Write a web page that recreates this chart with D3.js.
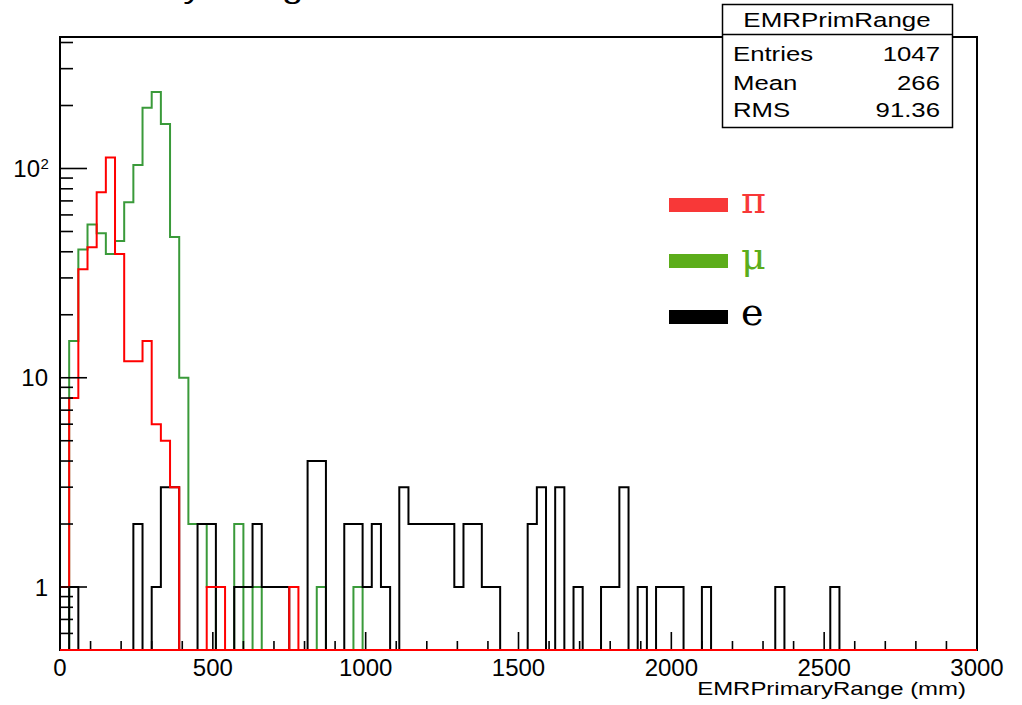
<!DOCTYPE html>
<html>
<head>
<meta charset="utf-8">
<script src="https://cdn.jsdelivr.net/npm/d3@7"></script>
<style>
  body { margin: 0; background: #fff; }
  svg { display: block; }
  text { font-family: "Liberation Sans", Arial, Helvetica, sans-serif; }
</style>
</head>
<body>
<div id="chart"></div>
<script>
// bins of 30 mm from 0 to 3000 mm
var binWidth = 30;

var pionCounts = [
  1, 8, 33, 42, 77, 113, 39, 12, 12, 15,
  6, 5, 3, 0, 0, 0, 1, 1, 0, 0,
  0, 0, 0, 0, 0, 1, 0, 0, 0, 0,
  0, 0, 0, 0, 0, 0, 0, 0, 0, 0,
  0, 0, 0, 0, 0, 0, 0, 0, 0, 0,
  0, 0, 0, 0, 0, 0, 0, 0, 0, 0,
  0, 0, 0, 0, 0, 0, 0, 0, 0, 0,
  0, 0, 0, 0, 0, 0, 0, 0, 0, 0,
  0, 0, 0, 0, 0, 0, 0, 0, 0, 0,
  0, 0, 0, 0, 0, 0, 0, 0, 0, 0
];

var muonCounts = [
  0, 15, 41, 54, 49, 39, 45, 69, 104, 195,
  232, 163, 47, 10, 2, 2, 1, 0, 0, 2,
  0, 1, 0, 0, 0, 0, 0, 0, 1, 0,
  0, 0, 1, 0, 0, 0, 0, 0, 0, 0,
  0, 0, 0, 0, 0, 0, 0, 0, 0, 0,
  0, 0, 0, 0, 0, 0, 0, 0, 0, 0,
  0, 0, 0, 0, 0, 0, 0, 0, 0, 0,
  0, 0, 0, 0, 0, 0, 0, 0, 0, 0,
  0, 0, 0, 0, 0, 0, 0, 0, 0, 0,
  0, 0, 0, 0, 0, 0, 0, 0, 0, 0
];

var electronCounts = [
  0, 1, 0, 0, 0, 0, 0, 0, 2, 0,
  1, 3, 3, 0, 0, 2, 2, 0, 0, 1,
  1, 2, 1, 1, 1, 0, 0, 4, 4, 0,
  0, 2, 2, 1, 2, 1, 0, 3, 2, 2,
  2, 2, 2, 1, 2, 2, 1, 1, 0, 0,
  0, 2, 3, 0, 3, 0, 1, 0, 0, 1,
  1, 3, 0, 1, 0, 1, 1, 1, 0, 0,
  1, 0, 0, 0, 0, 0, 0, 0, 1, 0,
  0, 0, 0, 0, 1, 0, 0, 0, 0, 0,
  0, 0, 0, 0, 0, 0, 0, 0, 0, 0
];

var xTickValues = [0, 500, 1000, 1500, 2000, 2500, 3000];
var yTickValues = [1, 10, 100];
var yTickLabels = [["1", ""], ["10", ""], ["10", "2"]];
var statsTitle = "EMRPrimRange";
var statsLabels = ["Entries", "Mean", "RMS"];
var statsValues = ["1047", "266", "91.36"];
var legendLabels = ["\u03c0", "\u03bc", "e"];

var svg = d3.select("#chart").append("svg")
    .attr("width", 1022)
    .attr("height", 705);

var frameL = 60, frameR = 977, frameT = 37, frameB = 650;

var x = d3.scaleLinear().domain([0, 3000]).range([frameL, frameR]);
var y = d3.scaleLog().domain([0.5, 425]).range([frameB, frameT]);

// title, mostly off the top of the canvas
svg.append("text")
    .attr("transform", "translate(72,-2) scale(1.35,1)")
    .attr("font-size", 28)
    .text("Primary Range");

// histograms
function histPoints(counts) {
  var pts = [[0, 0]];
  counts.forEach(function(c, i) {
    pts.push([i * binWidth, c]);
    pts.push([(i + 1) * binWidth, c]);
  });
  pts.push([counts.length * binWidth, 0]);
  return pts;
}

var histLine = d3.line()
    .x(function(d) { return x(d[0]); })
    .y(function(d) { return y(Math.max(d[1], 0.5)); });

var series = [
  {counts: muonCounts, color: "#3a9a3a"},
  {counts: electronCounts, color: "#000000"},
  {counts: pionCounts, color: "#ff0000"}
];

svg.selectAll("path.hist")
  .data(series)
  .enter()
  .append("path")
    .attr("class", "hist")
    .attr("d", function(d) { return histLine(histPoints(d.counts)); })
    .attr("fill", "none")
    .attr("stroke", function(d) { return d.color; })
    .attr("stroke-width", 2);

// x ticks (pointing up, inside the frame)
var axisG = svg.append("g").attr("stroke", "#000").attr("stroke-width", 1.6);
x.ticks(30).forEach(function(t) {
  var major = xTickValues.indexOf(t) >= 0;
  axisG.append("line")
    .attr("x1", x(t)).attr("x2", x(t))
    .attr("y1", frameB).attr("y2", frameB - (major ? 18 : 9));
});

// y ticks (pointing right)
y.ticks().forEach(function(t) {
  var major = yTickValues.indexOf(t) >= 0;
  axisG.append("line")
    .attr("x1", frameL).attr("x2", frameL + (major ? 27 : 13))
    .attr("y1", y(t)).attr("y2", y(t));
});

// frame
svg.append("rect")
    .attr("x", frameL).attr("y", frameT)
    .attr("width", frameR - frameL).attr("height", frameB - frameT)
    .attr("fill", "none")
    .attr("stroke", "#000")
    .attr("stroke-width", 2);

// the pion histogram runs along the bottom edge, over the frame
svg.append("line")
    .attr("x1", x(0)).attr("x2", x(3000))
    .attr("y1", frameB).attr("y2", frameB)
    .attr("stroke", "#ff0000").attr("stroke-width", 2);

// x tick labels
svg.selectAll("text.xlab")
  .data(xTickValues)
  .enter()
  .append("text")
    .attr("class", "xlab")
    .attr("x", function(d) { return x(d); })
    .attr("y", 676)
    .attr("text-anchor", "middle")
    .attr("font-size", 24)
    .text(function(d) { return d; });

// y tick labels
yTickValues.forEach(function(v, i) {
  var lab = yTickLabels[i];
  svg.append("text")
      .attr("x", lab[1] ? 40 : 48)
      .attr("y", y(v) + 8.5)
      .attr("text-anchor", "end")
      .attr("font-size", 24)
      .text(lab[0]);
  if (lab[1]) {
    svg.append("text")
      .attr("x", 40.5)
      .attr("y", y(v) + 1)
      .attr("font-size", 15)
      .text(lab[1]);
  }
});

// x axis title
svg.append("text")
    .attr("transform", "translate(966,695) scale(1.37,1)")
    .attr("text-anchor", "end")
    .attr("font-size", 17.5)
    .text("EMRPrimaryRange (mm)");

// stats box
var stats = svg.append("g");
stats.append("rect")
    .attr("x", 722.5).attr("y", 4.5)
    .attr("width", 230).attr("height", 123)
    .attr("fill", "#fff")
    .attr("stroke", "#000").attr("stroke-width", 1.5);
stats.append("line")
    .attr("x1", 722.5).attr("x2", 952.5)
    .attr("y1", 34.5).attr("y2", 34.5)
    .attr("stroke", "#000").attr("stroke-width", 1.5);
stats.append("text")
    .attr("transform", "translate(837,27) scale(1.33,1)")
    .attr("text-anchor", "middle")
    .attr("font-size", 19.5)
    .text(statsTitle);
var rowY = [61, 90, 117];
statsLabels.forEach(function(lab, i) {
  stats.append("text")
      .attr("transform", "translate(733," + rowY[i] + ") scale(1.32,1)")
      .attr("font-size", 19.5)
      .text(lab);
  stats.append("text")
      .attr("transform", "translate(940," + rowY[i] + ") scale(1.32,1)")
      .attr("text-anchor", "end")
      .attr("font-size", 19.5)
      .text(statsValues[i]);
});

// legend
var legendColors = ["#f83838", "#5cad1a", "#000000"];
var legendY = [205, 261, 317];
var legend = svg.append("g");
legendLabels.forEach(function(lab, i) {
  legend.append("rect")
      .attr("x", 669).attr("y", legendY[i] - 7)
      .attr("width", 59).attr("height", 14)
      .attr("fill", legendColors[i]);
  legend.append("text")
      .attr("x", 741)
      .attr("y", legendY[i] + 8)
      .style("font-family", "'DejaVu Serif', 'Liberation Serif', serif")
      .attr("font-size", 38)
      .attr("fill", legendColors[i])
      .text(lab);
});
</script>
</body>
</html>
